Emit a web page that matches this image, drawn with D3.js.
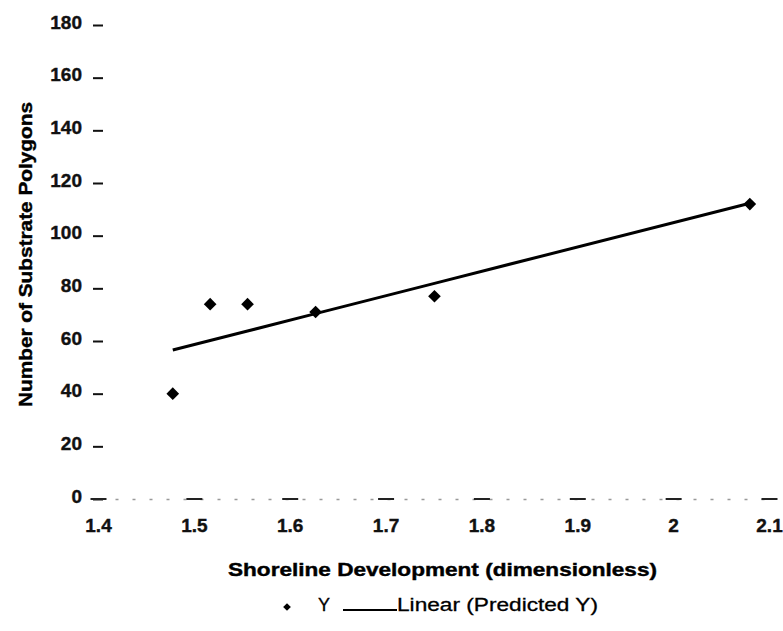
<!DOCTYPE html>
<html>
<head>
<meta charset="utf-8">
<script src="https://cdn.jsdelivr.net/npm/d3@7"></script>
<style>
    body { margin: 0; background: #fff; }
    svg { display: block; font-family: 'Liberation Sans', Arial, sans-serif; }
</style>
</head>
<body>
<svg id="chart"></svg>
<script>
// Observed points (Y) and the regression line (Predicted Y).
const shorelineDev = [1.478, 1.517, 1.556, 1.627, 1.751, 2.08];
const polygonCount = [40, 74, 74, 71, 77, 112];
const predictedY = [56.6, 60.2, 63.8, 70.4, 81.9, 112.3];

const xTicks = [1.4, 1.5, 1.6, 1.7, 1.8, 1.9, 2, 2.1];
const yTicks = [0, 20, 40, 60, 80, 100, 120, 140, 160, 180];

const width = 783;
const height = 631;
const margin = { top: 25, right: 14, bottom: 132, left: 98 };

const svg = d3.select('#chart').attr('width', width).attr('height', height);

const x = d3.scaleLinear().domain([1.4, 2.1]).range([margin.left, width - margin.right]);
const y = d3.scaleLinear().domain([0, 180]).range([height - margin.bottom, margin.top]);

const points = shorelineDev.map((d, i) => ({ x: d, y: polygonCount[i], p: predictedY[i] }));

// Y axis: only short dashes and labels, no spine.
const yAxis = svg.append('g')
    .attr('transform', `translate(${margin.left},0)`)
    .call(d3.axisLeft(y).tickValues(yTicks).tickSize(0).tickPadding(16));
yAxis.select('.domain').remove();
yAxis.selectAll('.tick')
    .append('line')
    .attr('x1', -5)
    .attr('x2', 5)
    .attr('stroke', '#111')
    .attr('stroke-width', 2);
yAxis.selectAll('.tick text')
    .attr('dy', 3)
    .attr('font-size', '19px')
    .attr('font-weight', 'bold')
    .attr('fill', '#111')
    .attr('stroke', '#111')
    .attr('stroke-width', 0.4);

// X axis: broken, faint baseline like the scanned original.
const xAxis = svg.append('g')
    .attr('transform', `translate(0,${y(0)})`)
    .call(d3.axisBottom(x).tickValues(xTicks).tickSize(0).tickPadding(20).tickFormat(d3.format('')));
xAxis.select('.domain')
    .attr('stroke', '#999')
    .attr('stroke-width', 1.5)
    .attr('stroke-dasharray', '3 14');
xAxis.selectAll('.tick')
    .append('line')
    .attr('x1', -8)
    .attr('x2', 8)
    .attr('stroke', '#222')
    .attr('stroke-width', 2);
xAxis.selectAll('.tick text')
    .attr('font-size', '19px')
    .attr('font-weight', 'bold')
    .attr('fill', '#111')
    .attr('stroke', '#111')
    .attr('stroke-width', 0.4);

// Axis titles.
svg.append('text')
    .attr('transform', `translate(32,${254.5}) rotate(-90)`)
    .attr('text-anchor', 'middle')
    .attr('font-size', '18px')
    .attr('font-weight', 'bold')
    .attr('stroke', '#000')
    .attr('stroke-width', 0.4)
    .attr('textLength', 305)
    .attr('lengthAdjust', 'spacingAndGlyphs')
    .text('Number of Substrate Polygons');

svg.append('text')
    .attr('x', 228)
    .attr('y', 576)
    .attr('font-size', '18px')
    .attr('font-weight', 'bold')
    .attr('stroke', '#000')
    .attr('stroke-width', 0.4)
    .attr('textLength', 429)
    .attr('lengthAdjust', 'spacingAndGlyphs')
    .text('Shoreline Development (dimensionless)');

// Regression line.
svg.append('path')
    .datum(points)
    .attr('fill', 'none')
    .attr('stroke', '#000')
    .attr('stroke-width', 3)
    .attr('d', d3.line().x(d => x(d.x)).y(d => y(d.p)));

// Data markers.
const diamond = d3.symbol(d3.symbolSquare, 80);
svg.append('g')
    .selectAll('path')
    .data(points)
    .enter()
    .append('path')
    .attr('d', diamond)
    .attr('transform', d => `translate(${x(d.x)},${y(d.y)}) rotate(45)`)
    .attr('fill', '#000');

// Legend.
const legend = svg.append('g');
legend.append('path')
    .attr('d', d3.symbol(d3.symbolSquare, 30))
    .attr('transform', 'translate(287,607) rotate(45)');
legend.append('text')
    .attr('x', 318)
    .attr('y', 611)
    .attr('font-size', '18px')
    .attr('stroke', '#000')
    .attr('stroke-width', 0.3)
    .text('Y');
legend.append('line')
    .attr('x1', 343)
    .attr('x2', 397)
    .attr('y1', 610)
    .attr('y2', 610)
    .attr('stroke', '#000')
    .attr('stroke-width', 2);
legend.append('text')
    .attr('x', 397)
    .attr('y', 611)
    .attr('font-size', '18px')
    .attr('stroke', '#000')
    .attr('stroke-width', 0.3)
    .attr('textLength', 201)
    .attr('lengthAdjust', 'spacingAndGlyphs')
    .text('Linear (Predicted Y)');
</script>
</body>
</html>
